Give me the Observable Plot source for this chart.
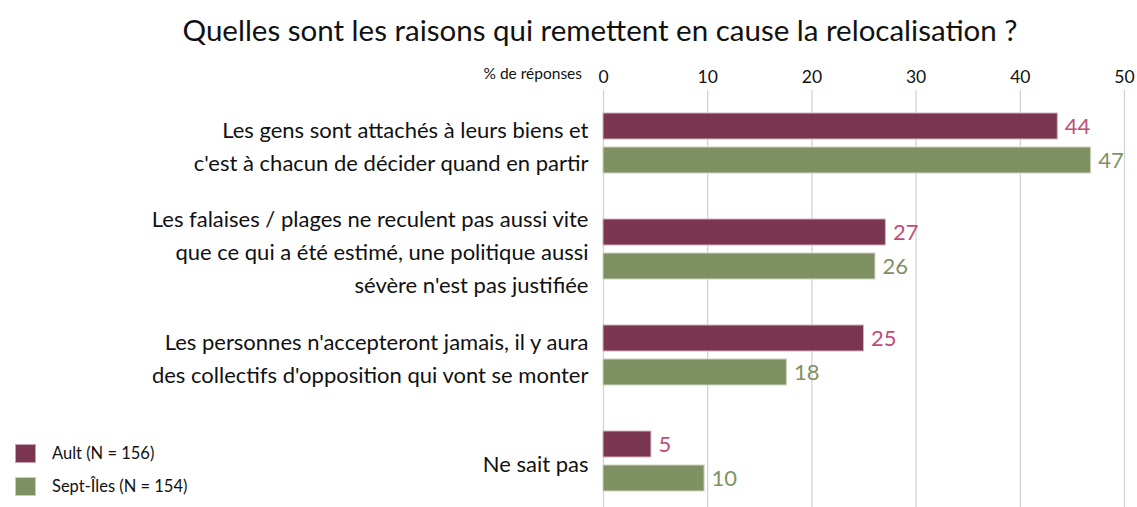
<!DOCTYPE html>
<html>
<head>
<meta charset="utf-8">
<script src="https://cdn.jsdelivr.net/npm/d3@7"></script>
<script src="https://cdn.jsdelivr.net/npm/@observablehq/plot@0.6"></script>
<style>
  html, body { margin: 0; padding: 0; background: #fff; overflow: hidden; }
  body { width: 1137px; height: 507px; position: relative; font-family: Lato, "Open Sans", sans-serif; color: #111; }
  #title { position: absolute; top: 0; left: 600px; transform: translateX(-50%); height: 50px; line-height: 60px; font-size: 29.5px; white-space: nowrap; }
  #chart { position: absolute; left: 0; top: 50px; }
  #xlabel { position: absolute; right: calc(1137px - 582px); top: 64px; font-size: 15.5px; white-space: nowrap; }
  .leg { position: absolute; left: 15px; font-size: 16.5px; display: flex; align-items: center; white-space: nowrap; }
  .leg span.sw { display: inline-block; width: 21px; height: 19px; margin-right: 16px; box-sizing: border-box; }
</style>
</head>
<body>
<div id="title">Quelles sont les raisons qui remettent en cause la relocalisation ?</div>
<div id="xlabel">% de réponses</div>
<div id="chart"></div>
<div class="leg" style="top:443px"><span class="sw" style="background:#7A3550;border:1px solid #c9a3b2"></span>Ault (N = 156)</div>
<div class="leg" style="top:476px"><span class="sw" style="background:#7F9163;border:1px solid #c6cfb8"></span>Sept-Îles (N = 154)</div>
<script>
const categories = [
  "Les gens sont attachés à leurs biens et\nc'est à chacun de décider quand en partir",
  "Les falaises / plages ne reculent pas aussi vite\nque ce qui a été estimé, une politique aussi\nsévère n'est pas justifiée",
  "Les personnes n'accepteront jamais, il y aura\ndes collectifs d'opposition qui vont se monter",
  "Ne sait pas"
];
const series = ["Ault (N = 156)", "Sept-Îles (N = 154)"];
const ault = [43.6, 27.1, 25.0, 4.6];
const septIles = [46.8, 26.1, 17.6, 9.7];
const xTicks = [0, 10, 20, 30, 40, 50];

const data = [];
categories.forEach((c, i) => {
  data.push({category: c, series: series[0], value: ault[i]});
  data.push({category: c, series: series[1], value: septIles[i]});
});
const aultData = data.filter(d => d.series === series[0]);
const septData = data.filter(d => d.series === series[1]);
const fmt = d3.format(".0f");

const chart = Plot.plot({
  width: 1137,
  height: 464,
  marginLeft: 603,
  marginRight: 13,
  marginTop: 39,
  marginBottom: 0,
  style: {fontFamily: "Lato, 'Open Sans', sans-serif", color: "#111", background: "transparent"},
  x: {domain: [0, 50], ticks: xTicks},
  fy: {domain: categories, paddingInner: 0, paddingOuter: 0, axis: null},
  y: {domain: series, paddingInner: 0.235, paddingOuter: 0.676, axis: null},
  marks: [
    Plot.gridX(xTicks, {stroke: "#d0d0d0", strokeOpacity: 1, strokeWidth: 1.2}),
    Plot.axisX({anchor: "top", ticks: xTicks, tickSize: 0, tickPadding: 8, fontSize: 17.5, label: null}),
    Plot.barX(aultData, {x: "value", y: "series", fy: "category", fill: "#7A3550", stroke: "#d2b3bf", strokeWidth: 1}),
    Plot.barX(septData, {x: "value", y: "series", fy: "category", fill: "#7F9163", stroke: "#ccd4bf", strokeWidth: 1}),
    Plot.text(aultData, {x: "value", y: "series", fy: "category", text: d => fmt(d.value), dx: 7, textAnchor: "start", fill: "#C04D78", fontSize: 22}),
    Plot.text(septData, {x: "value", y: "series", fy: "category", text: d => fmt(d.value), dx: 7, textAnchor: "start", fill: "#7F9163", fontSize: 22}),
    Plot.text(categories, {fy: d => d, text: d => d, frameAnchor: "left", dx: -15, textAnchor: "end", lineHeight: 1.5, fontSize: 22, fill: "#111"})
  ]
});
document.getElementById("chart").appendChild(chart);
</script>
</body>
</html>
